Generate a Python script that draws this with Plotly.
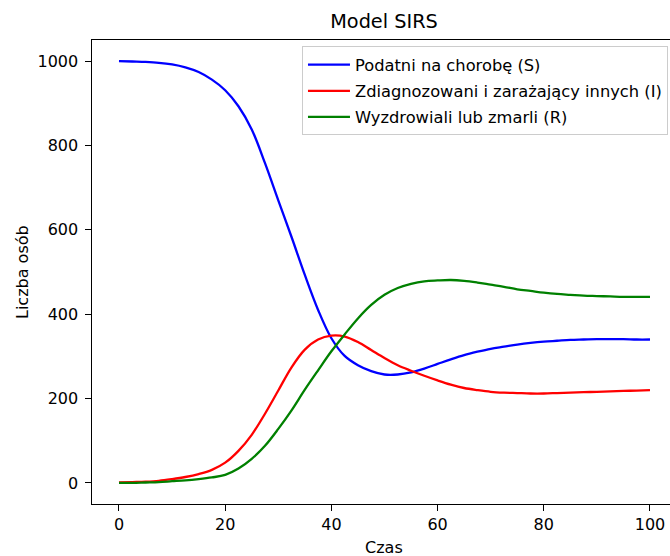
import plotly.graph_objects as go

# Time points (Czas)
t = [0, 2.5, 5, 7.5, 10, 12.5, 15, 17.5, 20, 22.5, 25, 27.5, 30, 32.5, 35, 37.5, 40,
     42.5, 45, 47.5, 50, 52.5, 55, 57.5, 60, 62.5, 65, 67.5, 70, 72.5, 75, 77.5, 80,
     82.5, 85, 87.5, 90, 92.5, 95, 97.5, 100]

# Podatni (S)
S = [1000, 999, 998, 996, 992, 985, 974, 956, 931, 893, 838, 758, 670, 583, 493, 410, 343,
     301, 279, 265, 257, 257, 262, 271, 282, 293, 303, 311, 318, 323, 328, 332, 335,
     337, 339, 340, 341, 341, 341, 340, 340]
# Zdiagnozowani (I)
I = [1, 2, 3, 5, 9, 14, 21, 31, 48, 76, 114, 164, 219, 274, 316, 340, 349,
     347, 334, 315, 296, 279, 266, 254, 243, 233, 225, 220, 216, 214, 213, 212, 212,
     213, 214, 215, 216, 217, 218, 219, 220]
# Wyzdrowiali (R)
R = [0, 0, 1, 2, 4, 6, 9, 13, 19, 34, 57, 88, 128, 172, 221, 267, 312,
     352, 390, 422, 446, 462, 472, 478, 480, 481, 479, 475, 470, 465, 459, 455, 451,
     448, 446, 444, 443, 442, 441, 441, 441]

names = ["Podatni na chorobę (S)", "Zdiagnozowani i zarażający innych (I)", "Wyzdrowiali lub zmarli (R)"]
colors = ["#0000ff", "#ff0000", "#008000"]

x_ticks = [0, 20, 40, 60, 80, 100]
y_ticks = [0, 200, 400, 600, 800, 1000]

FONT = "DejaVu Sans"
FS = 16

fig = go.Figure()
for i, (vals, name, col) in enumerate(zip([S, I, R], names, colors)):
    fig.add_trace(go.Scatter(
        x=t, y=vals, mode="lines", name=name,
        line=dict(color=col, width=2.3, shape="spline", smoothing=1.0),
        legendgroup=f"g{i}",
    ))

fig.update_layout(
    width=670, height=556,
    margin=dict(l=92, r=0, t=40, b=52),
    paper_bgcolor="white", plot_bgcolor="white",
    font=dict(family=FONT, size=FS, color="black"),
    showlegend=True,
    legend=dict(
        x=0.9965, y=0.986, xanchor="right", yanchor="top",
        bgcolor="rgba(255,255,255,0.8)", bordercolor="#cccccc", borderwidth=1,
        font=dict(family=FONT, size=16.3, color="black"),
        tracegroupgap=2, itemwidth=42,
    ),
    title=dict(text="Model SIRS", x=384/670, xanchor="center", y=1 - 21/556, yanchor="middle",
               font=dict(family=FONT, size=19.3, color="black")),
)

fig.update_xaxes(
    range=[-5.08, 103.77], tickvals=x_ticks, ticktext=[str(v) for v in x_ticks],
    showgrid=False, zeroline=False, showline=True, linecolor="black", linewidth=1.2,
    mirror=True, ticks="outside", ticklen=5.5, tickcolor="black", tickwidth=1.2,
    tickfont=dict(family=FONT, size=FS, color="black"),
)
fig.update_yaxes(
    range=[-50, 1050], tickvals=y_ticks, ticktext=[str(v) for v in y_ticks],
    showgrid=False, zeroline=False, showline=True, linecolor="black", linewidth=1.2,
    mirror=False, ticks="outside", ticklen=5.5, tickcolor="black", tickwidth=1.2,
    tickfont=dict(family=FONT, size=FS, color="black"),
    ticklabelstandoff=4,
)

fig.add_annotation(text="Czas", xref="paper", yref="paper", x=(384 - 92) / 578, y=-(547 - 504) / 464,
                   showarrow=False, xanchor="center", yanchor="middle",
                   font=dict(family=FONT, size=FS, color="black"))
fig.add_annotation(text="Liczba osób", xref="paper", yref="paper", x=-(92 - 22) / 578, y=(504 - 272) / 464,
                   showarrow=False, xanchor="center", yanchor="middle", textangle=-90,
                   font=dict(family=FONT, size=FS, color="black"))

fig.write_html("out.html")
